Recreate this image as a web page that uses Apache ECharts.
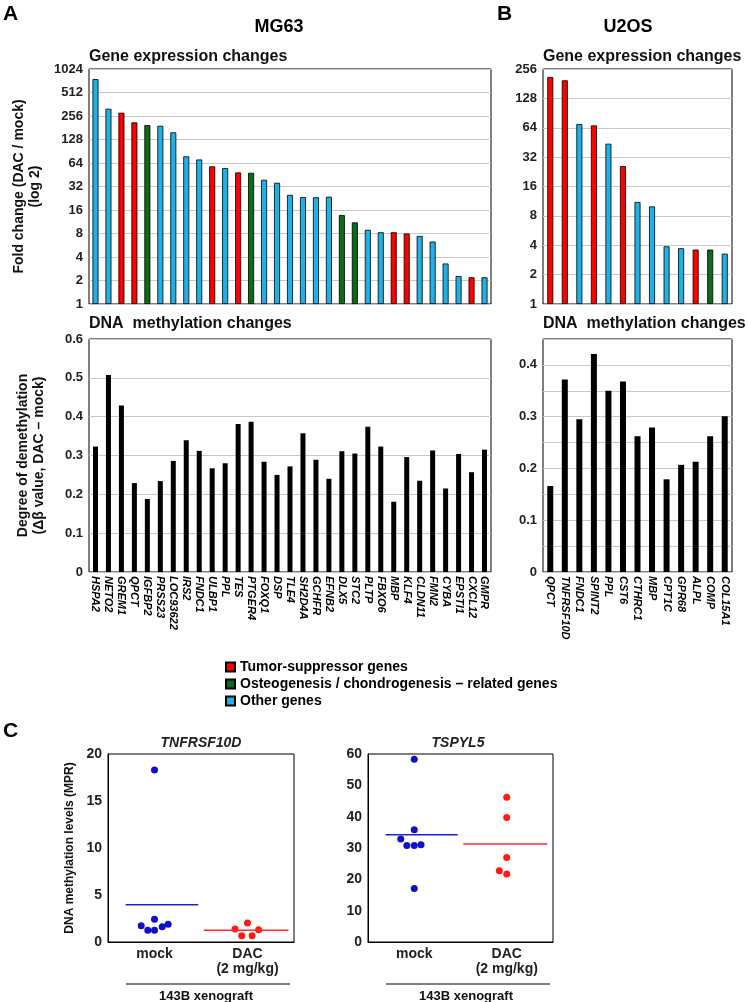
<!DOCTYPE html>
<html><head><meta charset="utf-8">
<script src="https://cdn.jsdelivr.net/npm/echarts@6/dist/echarts.min.js"></script>
<style>html,body{margin:0;padding:0;background:#fff}#c{width:748px;height:1002px}</style>
</head><body><div id="c"></div>
<script>
// ---------- Data ----------
const groupNames = ['Tumor-suppressor genes', 'Osteogenesis / chondrogenesis – related genes', 'Other genes'];
const groupColors = ['#ff0000', '#0b6b17', '#1eb0e6'];

const mgGenes = ['HSPA2','NETO2','GREM1','QPCT','IGFBP2','PRSS23','LOC93622','IRS2','FNDC1','ULBP1','PPL','TES','PTGER4','FOXQ1','DSP','TLE4','SH2D4A','GCHFR','EFNB2','DLX5','STC2','PLTP','FBXO6','MBP','KLF4','CLDN11','FMN2','CYBA','EPSTI1','CXCL12','GMPR'];
const mgFold = [760, 317, 282, 212, 196, 192, 158, 78, 71, 58, 55, 48.4, 48, 39, 35.7, 25, 23.4, 23.3, 23.7, 13.8, 11.1, 8.9, 8.3, 8.3, 8.0, 7.45, 6.3, 3.3, 2.28, 2.2, 2.2];
const mgGroup = [2,2,0,0,1,2,2,2,2,0,2,0,1,2,2,2,2,2,2,1,1,2,2,0,0,2,2,2,2,0,2];
const mgDemeth = [0.323, 0.507, 0.429, 0.229, 0.188, 0.234, 0.286, 0.339, 0.312, 0.267, 0.280, 0.381, 0.387, 0.284, 0.250, 0.272, 0.357, 0.289, 0.240, 0.311, 0.305, 0.374, 0.323, 0.181, 0.296, 0.235, 0.313, 0.215, 0.304, 0.257, 0.315];

const u2Genes = ['QPCT','TNFRSF10D','FNDC1','SPINT2','PPL','CST6','CTHRC1','MBP','CPT1C','GPR68','ALPL','COMP','COL15A1'];
const u2Fold = [212, 196, 69.8, 67.6, 43.9, 25.9, 11.1, 10.0, 3.9, 3.73, 3.61, 3.61, 3.28];
const u2Group = [0,0,2,0,2,0,2,2,2,2,0,1,2];
const u2Demeth = [0.166, 0.372, 0.295, 0.421, 0.350, 0.368, 0.262, 0.279, 0.179, 0.207, 0.213, 0.262, 0.301];

const foldRangeMG = [1, 1024];
const foldRangeU2 = [1, 256];

// Panel C (x position: category centre 0.5 = mock, 1.5 = DAC, plus jitter)
const cCategories = ['mock', 'DAC\n(2 mg/kg)'];
const tnfMockY = [18.3, 1.74, 1.24, 2.41, 1.24, 1.63, 1.88];
const tnfMockX = [0.5, 0.357, 0.428, 0.5, 0.5, 0.583, 0.647];
const tnfDacY = [1.38, 2.02, 1.31, 0.67, 0.67];
const tnfDacX = [1.366, 1.5, 1.62, 1.438, 1.55];
const tnfMean = [3.97, 1.25];
const tspMockY = [58.3, 32.9, 35.8, 30.8, 30.8, 31.0, 17.1];
const tspMockX = [0.5, 0.354, 0.5, 0.42, 0.5, 0.573, 0.5];
const tspDacY = [46.2, 39.7, 27.0, 22.7, 21.7];
const tspDacX = [1.5, 1.5, 1.5, 1.42, 1.5];
const tspMean = [34.2, 31.3];
const meanSpanMock = [0.19, 0.97];
const meanSpanDac = [1.03, 1.94];

// ---------- Build ----------
const FONT = "'Liberation Sans', Arial, sans-serif";
const gridLine = {show: true, lineStyle: {color: '#c8c8c8', width: 1}};
const yLabel = {fontSize: 13, fontWeight: 'bold', color: '#222', margin: 6};
const logLabel = Object.assign({formatter: v => String(Math.round(v))}, yLabel);

function groupSeries(fold, group, xi, yi, bw) {
  return groupNames.map((name, g) => ({
    name: name, type: 'bar', xAxisIndex: xi, yAxisIndex: yi,
    barWidth: bw, barGap: '-100%',
    itemStyle: {color: groupColors[g], borderColor: '#000', borderWidth: 0.8},
    data: fold.map((v, i) => group[i] === g ? v : '-')
  }));
}
const decFmt = v => v === 0 ? '0' : v.toFixed(1);
const halfFmt = v => (Math.round(v * 100) % 10 === 0) ? decFmt(v) : '';
const catFmt = v => Math.abs(v - 0.5) < 1e-6 ? cCategories[0] : (Math.abs(v - 1.5) < 1e-6 ? cCategories[1] : '');

const geneLabel = {rotate: -90, interval: 0, fontSize: 11, fontWeight: 'bold', fontStyle: 'italic', color: '#000', margin: 4};
const boxGrid = {show: true, borderColor: '#000', borderWidth: 1, backgroundColor: 'transparent'};
const titleStyle = (fs, extra) => Object.assign({fontSize: fs, fontWeight: 'bold', color: '#000'}, extra || {});

function pts(xs, ys) { return xs.map((x, i) => [x, ys[i]]); }
function meanLine(span, m) { return [[span[0], m], [span[1], m]]; }

const option = {
  animation: false,
  textStyle: {fontFamily: FONT},
  title: [
    {text: 'A', left: 3, top: 4, padding: 0, textStyle: titleStyle(21)},
    {text: 'MG63', left: 279, top: 18, padding: 0, textAlign: 'center', textStyle: titleStyle(18)},
    {text: 'B', left: 497, top: 4, padding: 0, textStyle: titleStyle(21)},
    {text: 'U2OS', left: 628, top: 18, padding: 0, textAlign: 'center', textStyle: titleStyle(18)},
    {text: 'Gene expression changes', left: 89, top: 49, padding: 0, textStyle: titleStyle(16, {color: '#111'})},
    {text: 'Gene expression changes', left: 543, top: 49, padding: 0, textStyle: titleStyle(16, {color: '#111'})},
    {text: 'DNA  methylation changes', left: 89, top: 316, padding: 0, textStyle: titleStyle(16, {color: '#111'})},
    {text: 'DNA  methylation changes', left: 543, top: 316, padding: 0, textStyle: titleStyle(16, {color: '#111'})},
    {text: 'C', left: 3, top: 721, padding: 0, textStyle: titleStyle(21)},
    {text: 'TNFRSF10D', left: 201, top: 736, padding: 0, textAlign: 'center', textStyle: titleStyle(14, {fontStyle: 'italic', color: '#222'})},
    {text: 'TSPYL5', left: 458, top: 736, padding: 0, textAlign: 'center', textStyle: titleStyle(14, {fontStyle: 'italic', color: '#222'})}
  ],
  legend: {
    data: groupNames, orient: 'vertical', left: 225, top: 660, padding: 0,
    itemWidth: 9, itemHeight: 9, itemGap: 3, selectedMode: false,
    icon: 'rect',
    textStyle: {fontSize: 14, fontWeight: 'bold', color: '#000', lineHeight: 14}
  },
  grid: [
    Object.assign({left: 89, top: 69, width: 402, height: 235}, boxGrid),
    Object.assign({left: 89, top: 339, width: 402, height: 233}, boxGrid),
    Object.assign({left: 543, top: 69, width: 189, height: 235}, boxGrid),
    Object.assign({left: 543, top: 339, width: 189, height: 233}, boxGrid),
    Object.assign({left: 108, top: 754, width: 186, height: 188}, boxGrid),
    Object.assign({left: 368, top: 754, width: 185, height: 188}, boxGrid)
  ],
  xAxis: [
    {type: 'category', gridIndex: 0, data: mgGenes, axisLabel: {show: false}, axisTick: {show: false}, axisLine: {show: false}},
    {type: 'category', gridIndex: 1, data: mgGenes, axisLabel: geneLabel, axisTick: {show: false}, axisLine: {show: false}},
    {type: 'category', gridIndex: 2, data: u2Genes, axisLabel: {show: false}, axisTick: {show: false}, axisLine: {show: false}},
    {type: 'category', gridIndex: 3, data: u2Genes, axisLabel: geneLabel, axisTick: {show: false}, axisLine: {show: false}},
    {type: 'value', gridIndex: 4, min: 0, max: 2, interval: 0.5, splitLine: {show: false}, axisTick: {show: false},
     axisLine: {show: true, lineStyle: {color: '#000'}},
     axisLabel: {formatter: catFmt, fontSize: 14, fontWeight: 'bold', color: '#222', margin: 5, lineHeight: 15}},
    {type: 'value', gridIndex: 5, min: 0, max: 2, interval: 0.5, splitLine: {show: false}, axisTick: {show: false},
     axisLine: {show: true, lineStyle: {color: '#000'}},
     axisLabel: {formatter: catFmt, fontSize: 14, fontWeight: 'bold', color: '#222', margin: 5, lineHeight: 15}}
  ],
  yAxis: [
    {type: 'log', logBase: 2, gridIndex: 0, min: foldRangeMG[0], max: foldRangeMG[1], interval: 1, splitNumber: 10,
     name: 'Fold change (DAC / mock)\n(log 2)', nameLocation: 'middle', nameGap: 37,
     nameTextStyle: {fontSize: 14, fontWeight: 'bold', color: '#111', lineHeight: 16},
     axisLabel: logLabel, axisTick: {show: false}, axisLine: {show: false}, splitLine: gridLine},
    {type: 'value', gridIndex: 1, min: 0, max: 0.6, interval: 0.1,
     name: 'Degree of demethylation\n(Δβ value, DAC – mock)', nameLocation: 'middle', nameGap: 42,
     nameTextStyle: {fontSize: 14, fontWeight: 'bold', color: '#111', lineHeight: 16},
     axisLabel: Object.assign({formatter: decFmt}, yLabel), axisTick: {show: false}, axisLine: {show: false}, splitLine: gridLine},
    {type: 'log', logBase: 2, gridIndex: 2, min: foldRangeU2[0], max: foldRangeU2[1], interval: 1, splitNumber: 8,
     axisLabel: logLabel, axisTick: {show: false}, axisLine: {show: false}, splitLine: gridLine},
    {type: 'value', gridIndex: 3, min: 0, max: 0.45, interval: 0.05,
     axisLabel: Object.assign({formatter: halfFmt}, yLabel), axisTick: {show: false}, axisLine: {show: false}, splitLine: gridLine},
    {type: 'value', gridIndex: 4, min: 0, max: 20, interval: 5,
     name: 'DNA methylation levels (MPR)', nameLocation: 'middle', nameGap: 32,
     nameTextStyle: {fontSize: 12, fontWeight: 'bold', color: '#111'},
     axisLabel: Object.assign({}, yLabel, {fontSize: 14}), axisTick: {show: false}, axisLine: {show: true, lineStyle: {color: '#000'}}, splitLine: {show: false}},
    {type: 'value', gridIndex: 5, min: 0, max: 60, interval: 10,
     axisLabel: Object.assign({}, yLabel, {fontSize: 14}), axisTick: {show: false}, axisLine: {show: true, lineStyle: {color: '#000'}}, splitLine: {show: false}}
  ],
  series: [].concat(
    groupSeries(mgFold, mgGroup, 0, 0, 6),
    [{type: 'bar', xAxisIndex: 1, yAxisIndex: 1, barWidth: 5, itemStyle: {color: '#000'}, data: mgDemeth}],
    groupSeries(u2Fold, u2Group, 2, 2, 6),
    [{type: 'bar', xAxisIndex: 3, yAxisIndex: 3, barWidth: 6, itemStyle: {color: '#000'}, data: u2Demeth}],
    [
      {type: 'scatter', xAxisIndex: 4, yAxisIndex: 4, symbolSize: 7, itemStyle: {color: '#1010cc', opacity: 1}, data: pts(tnfMockX, tnfMockY)},
      {type: 'scatter', xAxisIndex: 4, yAxisIndex: 4, symbolSize: 7, itemStyle: {color: '#ff1a1a', opacity: 1}, data: pts(tnfDacX, tnfDacY)},
      {type: 'line', xAxisIndex: 4, yAxisIndex: 4, symbol: 'none', lineStyle: {color: '#2020d0', width: 1.5}, data: meanLine(meanSpanMock, tnfMean[0])},
      {type: 'line', xAxisIndex: 4, yAxisIndex: 4, symbol: 'none', lineStyle: {color: '#ff2a2a', width: 1.5}, data: meanLine(meanSpanDac, tnfMean[1])},
      {type: 'scatter', xAxisIndex: 5, yAxisIndex: 5, symbolSize: 7, itemStyle: {color: '#1010cc', opacity: 1}, data: pts(tspMockX, tspMockY)},
      {type: 'scatter', xAxisIndex: 5, yAxisIndex: 5, symbolSize: 7, itemStyle: {color: '#ff1a1a', opacity: 1}, data: pts(tspDacX, tspDacY)},
      {type: 'line', xAxisIndex: 5, yAxisIndex: 5, symbol: 'none', lineStyle: {color: '#2020d0', width: 1.5}, data: meanLine(meanSpanMock, tspMean[0])},
      {type: 'line', xAxisIndex: 5, yAxisIndex: 5, symbol: 'none', lineStyle: {color: '#ff2a2a', width: 1.5}, data: meanLine(meanSpanDac, tspMean[1])}
    ]
  ),
  graphic: [
    {type: 'line', shape: {x1: 126, y1: 984, x2: 290, y2: 984}, style: {stroke: '#000', lineWidth: 1}},
    {type: 'text', x: 206, y: 996, style: {text: '143B xenograft', fontSize: 13, fontWeight: 'bold', fontFamily: FONT, fill: '#111', align: 'center', verticalAlign: 'middle'}},
    {type: 'line', shape: {x1: 386, y1: 984, x2: 550, y2: 984}, style: {stroke: '#000', lineWidth: 1}},
    {type: 'text', x: 466, y: 996, style: {text: '143B xenograft', fontSize: 13, fontWeight: 'bold', fontFamily: FONT, fill: '#111', align: 'center', verticalAlign: 'middle'}}
  ]
};

const chart = echarts.init(document.getElementById('c'), null, {renderer: 'canvas'});
chart.setOption(option);
</script>
</body></html>
